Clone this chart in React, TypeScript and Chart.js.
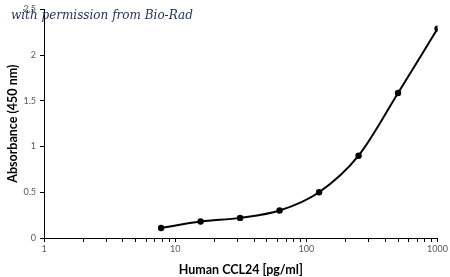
import React, { useEffect, useRef } from "react";
import { Chart, registerables } from "chart.js";

Chart.register(...registerables);

const concentrations = [7.8125, 15.625, 31.25, 62.5, 125, 250, 500, 1000];
const absorbance = [0.11, 0.18, 0.22, 0.3, 0.5, 0.9, 1.585, 2.29];
const xTickValues = [1, 2, 3, 4, 5, 6, 7, 8, 9, 10, 20, 30, 40, 50, 60, 70, 80, 90, 100, 200, 300, 400, 500, 600, 700, 800, 900, 1000];
const xLabelValues = [1, 10, 100, 1000];
const yTickValues = [0, 0.5, 1, 1.5, 2, 2.5];
const xTitle = "Human CCL24 [pg/ml]";
const yTitle = "Absorbance (450 nm)";
const note = "with permission from Bio-Rad";

export default function App() {
  const ref = useRef<HTMLCanvasElement>(null);
  useEffect(() => {
    const chart = new Chart(ref.current!, {
      type: "line",
      data: {
        datasets: [
          {
            data: concentrations.map((x, i) => ({ x, y: absorbance[i] })),
            borderColor: "#000",
            backgroundColor: "#000",
            borderWidth: 2,
            pointRadius: 3.2,
            pointBackgroundColor: "#000",
            pointBorderWidth: 0,
            tension: 0.4,
            cubicInterpolationMode: "monotone",
          },
        ],
      },
      options: {
        responsive: false,
        animation: false,
        layout: { padding: { left: 5, right: 8, top: 5, bottom: 0 } },
        plugins: { legend: { display: false }, tooltip: { enabled: false } },
        scales: {
          x: {
            type: "logarithmic",
            min: 1,
            max: 1000,
            afterBuildTicks: (s: any) => {
              s.ticks = xTickValues.map((v) => ({ value: v }));
            },
            afterFit: (s: any) => {
              s.height = 39;
            },
            ticks: {
              autoSkip: false,
              maxRotation: 0,
              color: "#595959",
              font: { family: "Lato", size: 9 },
              padding: 2,
              callback: (v: any) => (xLabelValues.includes(Number(v)) ? String(v) : ""),
            },
            grid: { drawOnChartArea: false, drawTicks: true, tickLength: 4, color: "#000", tickColor: "#000" },
            border: { color: "#000", width: 1 },
            title: {
              display: true,
              text: xTitle,
              color: "#000",
              font: { family: "Lato", size: 12.5, weight: "bold" },
              padding: { top: 3, bottom: 0 },
            },
          },
          y: {
            min: 0,
            max: 2.5,
            afterBuildTicks: (s: any) => {
              s.ticks = yTickValues.map((v) => ({ value: v }));
            },
            afterFit: (s: any) => {
              s.width = 39;
            },
            ticks: {
              color: "#595959",
              font: { family: "Lato", size: 9 },
              padding: 4,
              callback: (v: any) => String(v),
            },
            grid: { drawOnChartArea: false, drawTicks: true, tickLength: 4, color: "#000", tickColor: "#000" },
            border: { color: "#000", width: 1 },
            title: {
              display: true,
              text: yTitle,
              color: "#000",
              font: { family: "Lato", size: 12.5, weight: "bold" },
              padding: { top: 0, bottom: 2 },
            },
          },
        },
      },
    });
    return () => chart.destroy();
  }, []);
  return (
    <div style={{ position: "absolute", left: 0, top: 0, width: 450, height: 277, background: "#fff" }}>
      <canvas ref={ref} width={450} height={277} />
      <div
        style={{
          position: "absolute",
          left: 11,
          top: 8,
          fontFamily: "'DejaVu Serif', serif",
          fontStyle: "italic",
          fontSize: 12,
          color: "#1f2d5a",
          whiteSpace: "nowrap",
        }}
      >
        {note}
      </div>
    </div>
  );
}
